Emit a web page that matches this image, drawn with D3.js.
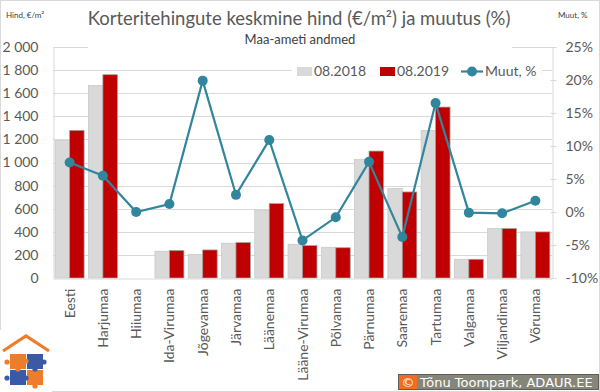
<!DOCTYPE html>
<html>
<head>
<meta charset="utf-8">
<script src="https://cdn.jsdelivr.net/npm/d3@7"></script>
<style>
  body { margin: 0; background: #fff; }
  text { font-family: Lato, "Open Sans", sans-serif; }
</style>
</head>
<body>
<div id="chart"></div>
<script>
const width = 600;
const height = 392;

const categories = ['Eesti', 'Harjumaa', 'Hiiumaa', 'Ida-Virumaa', 'Jõgevamaa', 'Järvamaa', 'Läänemaa',
  'Lääne-Virumaa', 'Põlvamaa', 'Pärnumaa', 'Saaremaa', 'Tartumaa', 'Valgamaa', 'Viljandimaa', 'Võrumaa'];
const seriesNames = ['08.2018', '08.2019'];
const price2018 = [1190, 1668, null, 232, 203, 301, 586, 292, 266, 1025, 776, 1278, 162, 428, 399];
const price2019 = [1278, 1760, null, 238, 243, 307, 644, 281, 262, 1099, 745, 1480, 162, 428, 399];
const change = [7.5, 5.5, 0, 1.2, 19.9, 2.6, 10.9, -4.3, -0.8, 7.6, -3.8, 16.5, -0.1, -0.2, 1.7];

const leftTicks = d3.range(0, 2001, 200);
const rightTicks = d3.range(-10, 26, 5);

const colors = ['#d9d9d9', '#c00000'];
const lineColor = '#31859c';
const textColor = '#595959';

// plot area
const plot = { left: 53, right: 552, top: 47, bottom: 278 };

const svg = d3.select('#chart')
  .append('svg')
    .attr('width', width)
    .attr('height', height);

const x0 = d3.scaleBand()
  .domain(categories)
  .range([plot.left, plot.right])
  .paddingInner(0.13)
  .paddingOuter(0.065);

const x1 = d3.scaleBand()
  .domain(seriesNames)
  .range([0, x0.bandwidth()]);

const y = d3.scaleLinear().domain([0, 2000]).range([plot.bottom, plot.top]);
const y2 = d3.scaleLinear().domain([-10, 25]).range([plot.bottom, plot.top]);

const fmtNum = d3.formatLocale({ decimal: ',', thousands: ' ', grouping: [3], currency: ['', ''] }).format(',');

// outer border
svg.append('rect')
  .attr('x', 0.5).attr('y', 0.5)
  .attr('width', width - 1).attr('height', height - 1)
  .attr('fill', 'none').attr('stroke', '#d9d9d9');

// gridlines
svg.append('g')
  .selectAll('line')
  .data(leftTicks.filter(d => d > 0))
  .join('line')
    .attr('x1', plot.left).attr('x2', plot.right)
    .attr('y1', d => Math.round(y(d)) + 0.5).attr('y2', d => Math.round(y(d)) + 0.5)
    .attr('stroke', '#d9d9d9');

// left axis
const leftAxis = svg.append('g')
  .attr('transform', `translate(${plot.left + 0.5},0)`)
  .call(d3.axisLeft(y).tickValues(leftTicks).tickFormat(fmtNum).tickSize(0).tickPadding(15));
leftAxis.select('.domain').attr('stroke', '#d9d9d9');
leftAxis.selectAll('text').attr('font-size', 14).attr('fill', textColor);

// right axis
const rightAxis = svg.append('g')
  .attr('transform', `translate(${plot.right + 0.5},0)`)
  .call(d3.axisRight(y2).tickValues(rightTicks).tickFormat(d => d + '%').tickSize(4).tickPadding(9));
rightAxis.select('.domain').attr('stroke', '#d9d9d9');
rightAxis.selectAll('.tick line').attr('stroke', '#d9d9d9').attr('x1', -2);
rightAxis.selectAll('text').attr('font-size', 14).attr('fill', textColor);

// bars
const rows = categories.map((c, i) => ({ cat: c, values: [price2018[i], price2019[i]] }));
svg.append('g')
  .selectAll('g')
  .data(rows)
  .join('g')
    .attr('transform', d => `translate(${x0(d.cat)},0)`)
  .selectAll('rect')
  .data(d => d.values.map((v, j) => ({ key: seriesNames[j], v, j })).filter(d => d.v != null))
  .join('rect')
    .attr('x', d => x1(d.key))
    .attr('y', d => y(d.v))
    .attr('width', x1.bandwidth())
    .attr('height', d => y(0) - y(d.v))
    .attr('fill', d => colors[d.j])
    .attr('stroke', d => d.j === 0 ? '#c8c8c8' : '#a0a0a0')
    .attr('stroke-width', 0.75);

// bottom axis
const bottomAxis = svg.append('g')
  .attr('transform', `translate(0,${plot.bottom + 0.5})`)
  .call(d3.axisBottom(x0).tickSize(0).tickPadding(0));
bottomAxis.select('.domain').attr('stroke', '#d9d9d9');
bottomAxis.selectAll('text')
  .attr('font-size', 14)
  .attr('fill', textColor)
  .attr('text-anchor', 'end')
  .attr('transform', 'rotate(-90)')
  .attr('x', -10)
  .attr('y', 0)
  .attr('dy', '0.36em');

// change line
const cx = i => x0(categories[i]) + x0.bandwidth() / 2;
const line = d3.line()
  .x((d, i) => cx(i))
  .y(d => y2(d));
svg.append('path')
  .datum(change)
  .attr('d', line)
  .attr('fill', 'none')
  .attr('stroke', lineColor)
  .attr('stroke-width', 2.2);
svg.append('g')
  .selectAll('circle')
  .data(change)
  .join('circle')
    .attr('cx', (d, i) => cx(i))
    .attr('cy', d => y2(d))
    .attr('r', 5)
    .attr('fill', lineColor);

// title block (white background hides grid)
svg.append('rect').attr('x', 88).attr('y', 30).attr('width', 424).attr('height', 24).attr('fill', '#fff');
svg.append('text')
  .attr('x', 299).attr('y', 25)
  .attr('text-anchor', 'middle')
  .attr('font-size', 18.5)
  .attr('fill', textColor)
  .text('Korteritehingute keskmine hind (€/m²) ja muutus (%)');
svg.append('text')
  .attr('x', 300).attr('y', 44)
  .attr('text-anchor', 'middle')
  .attr('font-size', 13)
  .attr('fill', '#404040')
  .text('Maa-ameti andmed');

// axis titles
svg.append('text').attr('x', 6).attr('y', 18).attr('font-size', 8).attr('fill', '#404040').text('Hind, €/m²');
svg.append('text').attr('x', 558).attr('y', 18).attr('font-size', 8).attr('fill', '#404040').text('Muut, %');

// legend
const legend = svg.append('g');
legend.append('rect').attr('x', 292).attr('y', 60).attr('width', 250).attr('height', 22).attr('fill', '#fff');
const legendItems = [
  { label: seriesNames[0], x: 297, type: 'bar', color: colors[0] },
  { label: seriesNames[1], x: 380, type: 'bar', color: colors[1] },
  { label: 'Muut, %', x: 461, type: 'line', color: lineColor }
];
legendItems.forEach(d => {
  if (d.type === 'bar') {
    legend.append('rect').attr('x', d.x).attr('y', 67).attr('width', 15).attr('height', 9).attr('fill', d.color);
    legend.append('text').attr('x', d.x + 17).attr('y', 76).attr('font-size', 14).attr('fill', textColor).text(d.label);
  } else {
    legend.append('line').attr('x1', d.x).attr('x2', d.x + 22).attr('y1', 71.5).attr('y2', 71.5)
      .attr('stroke', d.color).attr('stroke-width', 2.2);
    legend.append('circle').attr('cx', d.x + 11).attr('cy', 71.5).attr('r', 5).attr('fill', d.color);
    legend.append('text').attr('x', d.x + 24).attr('y', 76).attr('font-size', 14).attr('fill', textColor).text(d.label);
  }
});

// logo
const logo = svg.append('g');
logo.append('rect').attr('x', 0).attr('y', 330).attr('width', 52).attr('height', 62).attr('fill', '#fff');
logo.append('polyline')
  .attr('points', '3,351 26,336 49,351')
  .attr('fill', 'none').attr('stroke', '#ee7d2b').attr('stroke-width', 3.2);
const orange = '#ee7d2b', blue = '#3a5aa8';
[[10, 354, orange], [27, 354, blue], [10, 370, blue], [27, 370, orange]].forEach(p => {
  logo.append('rect').attr('x', p[0]).attr('y', p[1]).attr('width', 16).attr('height', 15).attr('fill', p[2]);
});
[[26, 361, orange], [35, 369, blue], [18, 369, orange], [26, 378, blue], [7, 362, orange], [44, 362, blue], [7, 378, blue], [35, 386, orange]]
  .forEach(p => logo.append('circle').attr('cx', p[0]).attr('cy', p[1]).attr('r', 2.6).attr('fill', p[2]));

// copyright
const cr = svg.append('g');
cr.append('rect').attr('x', 398.5).attr('y', 374.5).attr('width', 200).attr('height', 15)
  .attr('fill', '#85857a').attr('stroke', '#5f5f55');
cr.append('rect').attr('x', 399).attr('y', 375).attr('width', 18).attr('height', 14).attr('fill', '#f26c22');
cr.append('text').attr('x', 408).attr('y', 386.5).attr('text-anchor', 'middle')
  .style('font-family', '"DejaVu Sans"').attr('font-size', 13).attr('fill', '#fff').text('©');
cr.append('text').attr('x', 420).attr('y', 386.5)
  .style('font-family', '"DejaVu Sans"').attr('font-size', 13).attr('fill', '#fff').text('Tõnu Toompark, ADAUR.EE');
</script>
</body>
</html>
